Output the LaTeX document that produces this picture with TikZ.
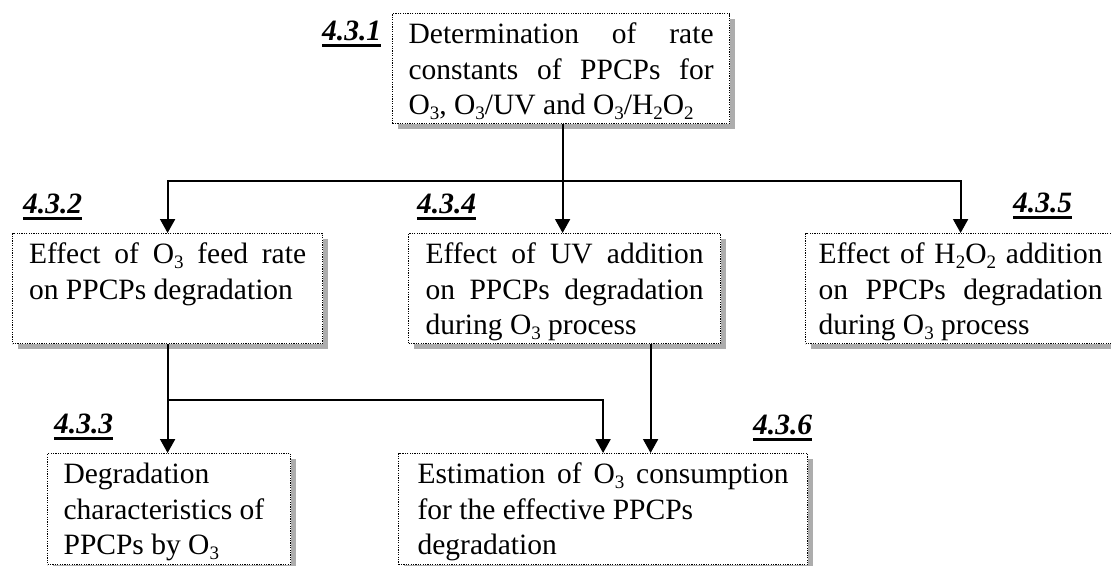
\documentclass[tikz,border=0pt]{standalone}
\usepackage{fontspec}
\setmainfont{Liberation Serif}
\usetikzlibrary{arrows.meta,shadows}

% small lowered subscript in the running text font
\newcommand{\subsc}[1]{\raisebox{-5pt}{\fontsize{19}{19}\selectfont #1}}
% top-aligned box body: width, height, text
\newcommand{\boxbody}[3]{\parbox[c][#2][t]{#1}{\rule{0pt}{30pt}#3}}

\tikzset{
  stepbox/.style={draw=black, line width=1.2pt, dash pattern=on 1.2pt off 1.2pt,
    fill=white, inner ysep=0pt, anchor=north west,
    drop shadow={shadow xshift=5pt, shadow yshift=-5pt, fill=black!32, opacity=1, draw=none},
    font=\fontsize{29.5}{35.5}\selectfont},
  tag/.style={inner sep=0pt, anchor=base west, font=\fontsize{29.5}{35}\selectfont\bfseries\itshape},
  uline/.style={line width=2.8pt},
  link/.style={line width=2pt},
  arr/.style={link, -{Triangle[width=15pt,length=14pt]}},
}

\begin{document}
\begin{tikzpicture}[x=1pt, y=-1pt]
\useasboundingbox (0,0) rectangle (1111,565);
\clip (0,0) rectangle (1111,565);
\fill[white] (0,0) rectangle (1111,565);

% boxes
\node[stepbox, inner xsep=16pt] (n431) at (392,13)
  {\boxbody{305pt}{110pt}{Determination of rate\linebreak constants of PPCPs for\linebreak O\subsc{3}, O\subsc{3}/UV and O\subsc{3}/H\subsc{2}O\subsc{2}}\hspace{7pt}};
\node[stepbox, inner xsep=16.5pt] (n432) at (12,233)
  {\boxbody{277pt}{110pt}{Effect of O\subsc{3} feed rate\linebreak on PPCPs degradation}};
\node[stepbox, inner xsep=17pt] (n434) at (408,233)
  {\boxbody{278pt}{110pt}{Effect of UV addition\linebreak on PPCPs degradation\linebreak during O\subsc{3} process}};
\node[stepbox, inner xsep=13pt] (n435) at (805,233)
  {\boxbody{284pt}{110pt}{Effect of H\subsc{2}O\subsc{2} addition\linebreak on PPCPs degradation\linebreak during O\subsc{3} process}};
\node[stepbox, inner xsep=16pt] (n433) at (47,453)
  {\boxbody{211pt}{111pt}{\raggedright Degradation\\ characteristics of\\ PPCPs by O\subsc{3}}};
\node[stepbox, inner xsep=19pt] (n436) at (398,453)
  {\boxbody{371pt}{111pt}{Estimation of O\subsc{3} consumption\linebreak for the effective PPCPs\newline degradation}};

% section numbers
\node[tag] (t431) at (322,40) {4.3.1};
\node[tag] (t432) at (23,213) {4.3.2};
\node[tag] (t434) at (417,213) {4.3.4};
\node[tag] (t435) at (1013,212) {4.3.5};
\node[tag] (t433) at (54,433) {4.3.3};
\node[tag] (t436) at (753,434) {4.3.6};
\foreach \t in {t431,t432,t434,t435,t433,t436}
  \draw[uline] ([yshift=-5.5pt]\t.base west) -- ([yshift=-5.5pt]\t.base east);

% connectors
\path (n434.north) ++(-2,-52) coordinate (j1);
\draw[link] (n431.south -| j1) -- (j1);
\draw[arr] (j1) -- (j1 |- n434.north);
\draw[arr] (j1) -| (n432.north);
\draw[arr] (j1) -| (n435.north);

\path (n432.south) ++(0,56) coordinate (j2);
\draw[link] (n432.south) -- (j2);
\draw[arr] (j2) -- (j2 |- n433.north);
\draw[arr] (j2) -| (n436.north);
\draw[arr] ([xshift=86pt]n434.south) -- ([xshift=86pt]n434.south |- n436.north);
\end{tikzpicture}
\end{document}
